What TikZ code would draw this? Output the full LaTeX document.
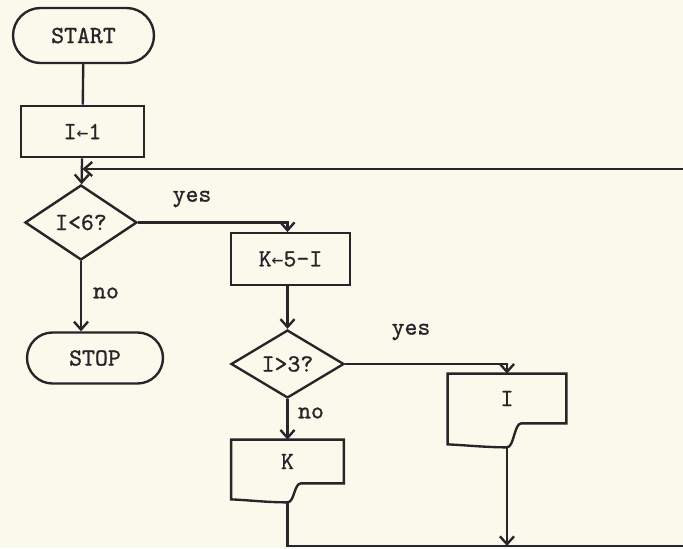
\documentclass[tikz,border=0pt]{standalone}
\usepackage{fontspec}
\setmonofont{lmmono10-regular.otf}[FakeBold=1]
\newfontfamily\arrowfont{DejaVu Sans Mono}[Scale=0.8]
\newcommand\assign{{\arrowfont ←}}
\usetikzlibrary{shapes.geometric, shapes.misc, arrows.meta, calc}
\definecolor{ink}{RGB}{40,36,42}
\definecolor{paper}{RGB}{251,248,236}
\tikzset{
  tt/.style={font=\ttfamily\fontsize{14}{16}\selectfont, text=ink},
  line/.style={draw=ink, line width=1.35pt},
  arrow/.style={draw=ink, line width=1.35pt, -{Straight Barb[length=4.5pt,width=8pt]}},
  term/.style={tt, draw=ink, line width=1.35pt, rounded rectangle, inner sep=0pt},
  proc/.style={tt, draw=ink, line width=1.35pt, rectangle, inner sep=0pt, minimum height=1.03cm},
  decide/.style={tt, draw=ink, line width=1.35pt, diamond, inner sep=0pt},
  docbox/.style={tt, rectangle, inner sep=0pt},
  lbl/.style={tt}
}
\begin{document}
\begin{tikzpicture}[x=0.02cm, y=-0.02cm]
  \clip (0,0) rectangle (683,548);
  \fill [paper] (0,0) rectangle (683,548);

  \node [term, minimum width=2.82cm, minimum height=1.1cm] (start) at (83.5,35.5) {START};
  \node [proc, minimum width=2.46cm] (init) at (82.5,131.5) {I\assign 1};
  \node [decide, minimum width=2.24cm, minimum height=1.5cm] (test1) at (81,222.5) {I<6?};
  \node [proc, minimum width=2.38cm] (kset) at (290.5,259) {K\assign 5-I};
  \node [term, minimum width=2.72cm, minimum height=1.02cm] (stop) at (95,358) {STOP};
  \node [decide, minimum width=2.26cm, minimum height=1.36cm] (test2) at (287.5,364) {I>3?};
  \node [docbox, minimum width=2.24cm, minimum height=0.86cm] (outk) at (287.5,461.5) {K};
  \node [docbox, minimum width=2.36cm, minimum height=0.98cm] (outi) at (507,398.5) {I};

  % printed output shapes with the torn lower edge
  \foreach \d/\f in {outk/19, outi/24} {
    \coordinate (\d-foot) at ($(\d.south)+(0,\f)$);
    \draw [line] ($(\d.south west)+(0,\f-3)$) -- (\d.north west) -- (\d.north east) -- (\d.south east)
      -- ($(\d.south east)!0.38!(\d.south west)$)
      .. controls +(-7,0) and +(7,0) .. (\d-foot)
      .. controls +(-20,0) and +(20,1) .. cycle;
  }

  \node [lbl] (yes1) at (192,199) {yes};
  \node [lbl] (no1) at (106,293) {no};
  \node [lbl] (yes2) at (411,332) {yes};
  \node [lbl] (no2) at (311,413) {no};

  \coordinate (back) at (700,546);
  \coordinate (ret) at (700,169);

  \draw [line] (start) -- (init);
  \draw [arrow] (init) -- (test1);
  \draw [arrow] (test1.east) -| (test2.north |- kset.north);
  \draw [arrow] (test1.south) -- (test1.south |- stop.north);
  \draw [arrow] (test2.north |- kset.south) -- (test2.north);
  \draw [arrow] (test2.east) -| (outi.north);
  \draw [arrow] (test2) -- (outk);
  \draw [line] (outk-foot) |- (back);
  \draw [arrow] (outi-foot) -- (outi-foot |- back);
  \draw [arrow] (ret) -- (ret -| init.south);
\end{tikzpicture}
\end{document}
